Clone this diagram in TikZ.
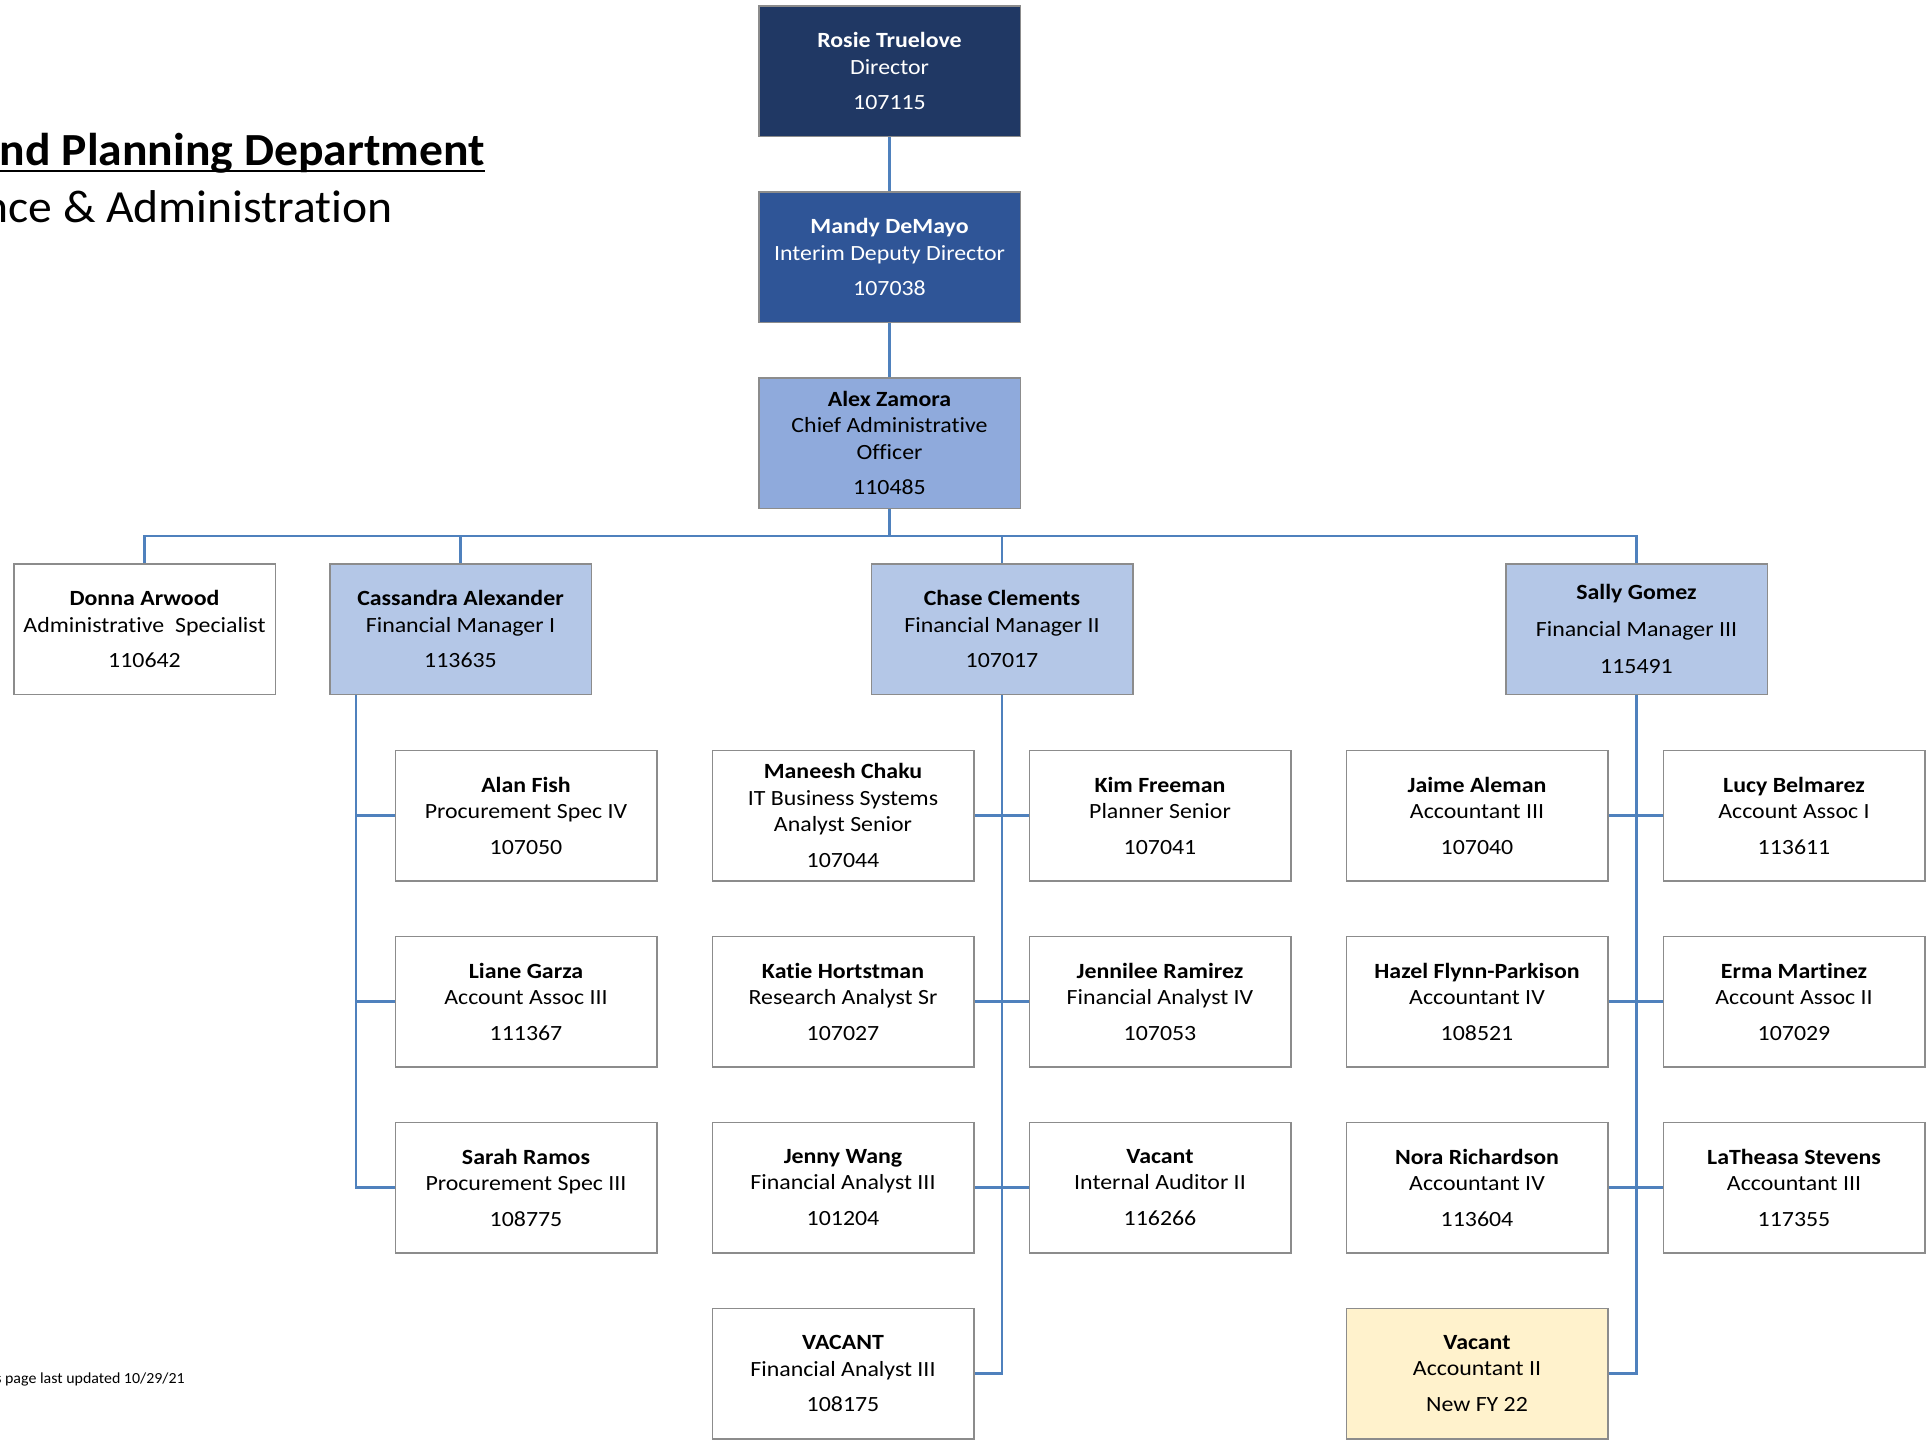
\documentclass[tikz,border=0pt]{standalone}
\usepackage{fontspec}
\setmainfont{Carlito}[Ligatures=NoCommon, FakeStretch=1.1]
\newfontfamily\headfont{Carlito}[Ligatures=NoCommon, FakeStretch=1.035]
\usetikzlibrary{positioning}

\definecolor{navy}{HTML}{203864}
\definecolor{deputyblue}{HTML}{2F5597}
\definecolor{chiefblue}{HTML}{8FAADC}
\definecolor{mgrblue}{HTML}{B4C7E7}
\definecolor{newpos}{HTML}{FFF2CC}
\definecolor{linkblue}{HTML}{4F81BD}
\definecolor{edgegray}{HTML}{8C8C8C}

\tikzstyle{staff} = [rectangle, minimum width=261.5pt, minimum height=130.5pt, inner sep=0pt, align=center, draw=edgegray, line width=1.5pt, fill=white, font=\fontsize{21.7pt}{26.5pt}\selectfont]
\tikzstyle{director} = [staff, fill=navy, text=white]
\tikzstyle{deputy} = [staff, fill=deputyblue, text=white]
\tikzstyle{chief} = [staff, fill=chiefblue]
\tikzstyle{manager} = [staff, fill=mgrblue]
\tikzstyle{newstaff} = [staff, fill=newpos]
\tikzstyle{link} = [draw=linkblue, line width=2.5pt]
\tikzstyle{heading} = [inner sep=0pt, anchor=base east]

\begin{document}
\begin{tikzpicture}[x=1pt, y=1pt, node distance=54pt]
\useasboundingbox (0,0) rectangle (1931,-1440);
\clip (0,0) rectangle (1931,-1440);

% Heading
\node (dept) [heading, font=\headfont\fontsize{46pt}{56pt}\selectfont\bfseries] at (485,-165) {nd Planning Department};
\draw [line width=2.2pt] ([yshift=-6pt]dept.base west) -- ([yshift=-6pt]dept.base east);
\node (division) [heading, font=\headfont\fontsize{46pt}{56pt}\selectfont] at (393,-222) {nce \& Administration};
\node (updated) [heading, font=\headfont\fontsize{15.4pt}{18pt}\selectfont] at (185,-1383) {s page last updated 10/29/21};

% Nodes
\node (rosie) [director] at (889.5,-71) {\textbf{Rosie Truelove}\\Director\\[9pt]107115};
\node (mandy) [deputy, below=of rosie] {\textbf{Mandy DeMayo}\\Interim Deputy Director\\[9pt]107038};
\node (alex) [chief, below=of mandy] {\textbf{Alex Zamora}\\Chief Administrative\\Officer\\[9pt]110485};

\node (donna) [staff] at (144.5,-629) {\textbf{Donna Arwood}\\Administrative\ \ Specialist\\[9pt]110642};
\node (cassandra) [manager] at (460.5,-629) {\textbf{Cassandra Alexander}\\Financial Manager I\\[9pt]113635};
\node (chase) [manager] at (1002,-629) {\textbf{Chase Clements}\\Financial Manager II\\[9pt]107017};
\node (sally) [manager] at (1636.5,-629) {\textbf{Sally Gomez}\\[10.5pt]Financial Manager III\\[10.5pt]115491};

% Cassandra's team
\node (alan) [staff] at (526,-815.5) {\textbf{Alan Fish}\\Procurement Spec IV\\[9pt]107050};
\node (liane) [staff, below=of alan] {\textbf{Liane Garza}\\Account Assoc III\\[9pt]111367};
\node (sarah) [staff, below=of liane] {\textbf{Sarah Ramos}\\Procurement Spec III\\[9pt]108775};

% Chase's team
\node (maneesh) [staff, right=of alan] {\textbf{Maneesh Chaku}\\IT Business Systems\\Analyst Senior\\[9pt]107044};
\node (katie) [staff, below=of maneesh] {\textbf{Katie Hortstman}\\Research Analyst Sr\\[9pt]107027};
\node (jenny) [staff, below=of katie] {\textbf{Jenny Wang}\\Financial Analyst III\\[9pt]101204};
\node (vacantfa) [staff, below=of jenny] {\textbf{VACANT}\\Financial Analyst III\\[9pt]108175};
\node (kim) [staff, right=of maneesh] {\textbf{Kim Freeman}\\Planner Senior\\[9pt]107041};
\node (jennilee) [staff, below=of kim] {\textbf{Jennilee Ramirez}\\Financial Analyst IV\\[9pt]107053};
\node (vacantia) [staff, below=of jennilee] {\textbf{Vacant}\\Internal Auditor II\\[9pt]116266};

% Sally's team
\node (jaime) [staff, right=of kim] {\textbf{Jaime Aleman}\\Accountant III\\[9pt]107040};
\node (hazel) [staff, below=of jaime] {\textbf{Hazel Flynn-Parkison}\\Accountant IV\\[9pt]108521};
\node (nora) [staff, below=of hazel] {\textbf{Nora Richardson}\\Accountant IV\\[9pt]113604};
\node (vacantacc) [newstaff, below=of nora] {\textbf{Vacant}\\Accountant II\\[9pt]New FY 22};
\node (lucy) [staff, right=of jaime] {\textbf{Lucy Belmarez}\\Account Assoc I\\[9pt]113611};
\node (erma) [staff, below=of lucy] {\textbf{Erma Martinez}\\Account Assoc II\\[9pt]107029};
\node (latheasa) [staff, below=of erma] {\textbf{LaTheasa Stevens}\\Accountant III\\[9pt]117355};

% Links
\coordinate (bus) at ([yshift=-27pt]alex.south);
\draw [link] (rosie) -- (mandy);
\draw [link] (mandy) -- (alex);
\draw [link] (alex) -- (bus);
\draw [link] (donna.north) |- (bus) -| (sally.north);
\draw [link] (cassandra) -- (cassandra |- bus);
\draw [link] (chase) -- (chase |- bus);

% Cassandra's team
\coordinate (casstrunk) at ([xshift=27pt]cassandra.south west);
\draw [link] (casstrunk) |- (sarah.west);
\draw [link] (casstrunk |- alan.west) -- (alan.west);
\draw [link] (casstrunk |- liane.west) -- (liane.west);

% Chase's team
\draw [link] (chase) |- (vacantfa.east);
\draw [link] (maneesh) -- (kim);
\draw [link] (katie) -- (jennilee);
\draw [link] (jenny) -- (vacantia);

% Sally's team
\draw [link] (sally) |- (vacantacc.east);
\draw [link] (jaime) -- (lucy);
\draw [link] (hazel) -- (erma);
\draw [link] (nora) -- (latheasa);

\end{tikzpicture}
\end{document}
